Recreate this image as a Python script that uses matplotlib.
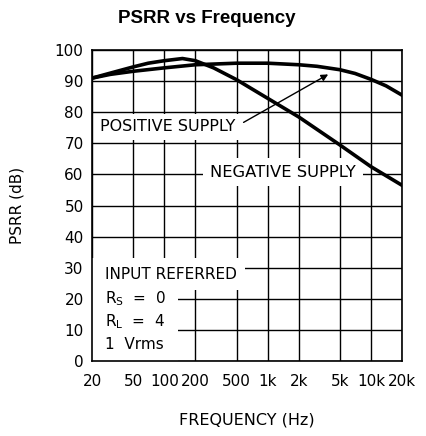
import matplotlib
matplotlib.use("Agg")
import matplotlib.pyplot as plt
from matplotlib.patches import Rectangle

# PSRR curves
pos_freq = [20, 30, 50, 100, 200, 500, 1000, 2000, 3000, 5000, 7000, 10000, 14000, 20000]
pos_db = [91, 92.2, 93.2, 94.3, 95.3, 95.8, 95.8, 95.3, 94.8, 93.7, 92.5, 90.6, 88.5, 85.5]

neg_freq = [20, 30, 50, 70, 100, 150, 200, 300, 500, 1000, 2000, 5000, 10000, 20000]
neg_db = [91, 92.6, 94.6, 95.8, 96.6, 97.3, 96.6, 94.3, 90.5, 84.5, 78.5, 69.5, 62.5, 56.5]

x_ticks = [20, 50, 100, 200, 500, 1000, 2000, 5000, 10000, 20000]
x_labels = ["20", "50", "100", "200", "500", "1k", "2k", "5k", "10k", "20k"]
y_ticks = list(range(0, 101, 10))

plt.rcParams['font.family'] = ['DejaVu Sans']

fig = plt.figure(figsize=(4.26, 4.36), dpi=100)
ax = fig.add_axes([0.216, 0.172, 0.728, 0.713])
ax.set_xscale("log")
ax.set_xlim(20, 20000)
ax.set_ylim(0, 100)
ax.set_xticks(x_ticks)
ax.set_xticklabels(x_labels)
ax.minorticks_off()
ax.set_yticks(y_ticks)
ax.tick_params(length=0, labelsize=11, colors="black")
ax.tick_params(axis="x", pad=9)
ax.tick_params(axis="y", pad=6)
ax.set_axisbelow(True)
ax.grid(True, color="black", linewidth=1.0)
for s in ax.spines.values():
    s.set_linewidth(1.2)

ax.plot(pos_freq, pos_db, color="black", linewidth=2.6, zorder=5)
ax.plot(neg_freq, neg_db, color="black", linewidth=2.6, zorder=5)

# white boxes breaking the grid behind the conditions text
ax.add_patch(Rectangle((20, 22.9), 606 - 20, 33.2 - 22.9, facecolor="white",
                       edgecolor="none", zorder=1))
ax.add_patch(Rectangle((20, 0), 135 - 20, 22.9, facecolor="white",
                       edgecolor="none", zorder=1))

box = dict(facecolor="white", edgecolor="none", pad=4)
ax.annotate("POSITIVE SUPPLY", xy=(3850, 92.2), xytext=(24, 75.3),
            ha="left", va="center", fontsize=11.5, bbox=box, zorder=4,
            arrowprops=dict(arrowstyle="-|>", color="black", lw=1.0,
                            relpos=(1, 0.5), shrinkA=2, shrinkB=0,
                            mutation_scale=10))
ax.text(277, 60.8, "NEGATIVE SUPPLY", ha="left", va="center", fontsize=11.8,
        bbox=dict(facecolor="white", edgecolor="none", pad=5), zorder=4)

ax.text(26.7, 27.7, "INPUT REFERRED", ha="left", va="center", fontsize=11, zorder=4)
ax.text(26.7, 20.0, r"R$_\mathregular{S}$  =  0", ha="left", va="center", fontsize=11, zorder=4)
ax.text(26.7, 12.8, r"R$_\mathregular{L}$  =  4", ha="left", va="center", fontsize=11, zorder=4)
ax.text(26.7, 5.2, "1  Vrms", ha="left", va="center", fontsize=11, zorder=4)

ax.set_xlabel("FREQUENCY (Hz)", fontsize=11.5, labelpad=17)
ax.set_ylabel("PSRR (dB)", fontsize=11, labelpad=22)
fig.text(0.486, 0.957, "PSRR vs Frequency", ha="center", va="center",
         fontsize=13.5, fontweight="bold", family="Liberation Sans")

fig.savefig("out.png", dpi=100)
